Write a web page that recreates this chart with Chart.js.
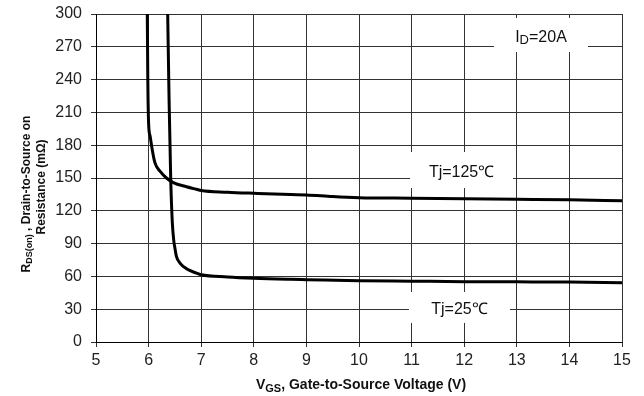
<!DOCTYPE html>
<html>
<head>
<meta charset="utf-8">
<script src="https://cdn.jsdelivr.net/npm/chart.js@4.4.1/dist/chart.umd.min.js"></script>
<style>
html,body{margin:0;padding:0;background:#fff;}
#c{display:block;}
</style>
</head>
<body>
<canvas id="c" width="644" height="396"></canvas>
<script>
// ---- Data ----
const vgs125 = [5.975, 5.985, 6.0, 6.03, 6.06, 6.12, 6.22, 6.34, 6.47, 6.72, 6.91, 7.0, 7.5, 8.0, 8.7, 9.0, 9.5, 10, 11, 12, 13, 14, 15];
const rds125 = [300, 240, 200, 188, 178.5, 164, 156, 150, 145.7, 142, 139.7, 138.5, 137, 136, 134.8, 134.5, 133, 132, 131.5, 131, 130.5, 130, 129.2];
const vgs25 = [6.363, 6.39, 6.42, 6.45, 6.48, 6.5, 6.53, 6.6, 6.72, 6.91, 7.0, 7.5, 8, 8.7, 9, 10, 11, 12, 13, 14, 15];
const rds25 = [300, 220, 150, 110, 92, 86, 78, 72, 67, 63, 61.5, 59.5, 58.3, 57.3, 57, 56, 55.6, 55.2, 55, 54.8, 54.3];
const xTicks = [5, 6, 7, 8, 9, 10, 11, 12, 13, 14, 15];
const yTicks = [0, 30, 60, 90, 120, 150, 180, 210, 240, 270, 300];

// annotation labels: [main, subscript, rest], anchored in data units
const labelTexts = [["I", "D", "=20A"], ["Tj=125℃", "", ""], ["Tj=25℃", "", ""]];
const labelX = [13.46, 11.95, 11.91];
const labelY = [280.8, 157.3, 31.6];
const labelBox = [[94, 34], [103, 36], [101, 31]];

const toPts = (xs, ys) => xs.map((x, i) => ({x: x, y: ys[i]}));
const FAM = '"Liberation Sans", Arial, sans-serif';

function drawSubText(ctx, parts, x, y, size, bold, align, subRatio, subDrop) {
  const f = (s) => (bold ? 'bold ' : '') + s + 'px ' + FAM;
  const subSize = Math.round(size * (subRatio || 0.72));
  const drop = subDrop === undefined ? size * 0.18 : subDrop;
  ctx.font = f(size); const w1 = ctx.measureText(parts[0]).width;
  const w3 = ctx.measureText(parts[2]).width;
  ctx.font = f(subSize); const w2 = ctx.measureText(parts[1]).width;
  const total = w1 + w2 + w3;
  let sx = align === 'center' ? x - total / 2 : x;
  ctx.textAlign = 'left';
  ctx.textBaseline = 'alphabetic';
  ctx.font = f(size); ctx.fillText(parts[0], sx, y);
  ctx.font = f(subSize); ctx.fillText(parts[1], sx + w1, y + drop);
  ctx.font = f(size); ctx.fillText(parts[2], sx + w1 + w2, y);
}

const annPlugin = {
  id: 'ann',
  beforeDatasetsDraw(chart) {
    const ctx = chart.ctx, xs = chart.scales.x, ys = chart.scales.y;
    ctx.save();
    for (let i = 0; i < labelTexts.length; i++) {
      const cx = xs.getPixelForValue(labelX[i]);
      const cy = ys.getPixelForValue(labelY[i]);
      const [w, h] = labelBox[i];
      ctx.fillStyle = '#fff';
      ctx.fillRect(cx - w / 2, cy - h / 2, w, h);
      ctx.fillStyle = '#111';
      drawSubText(ctx, labelTexts[i], cx, cy + 7, 16, false, 'center', 0.8, 2);
    }
    ctx.restore();
  },
  afterDraw(chart) {
    const ctx = chart.ctx;
    ctx.save();
    ctx.fillStyle = '#111';
    drawSubText(ctx, ["V", "GS", ", Gate-to-Source Voltage (V)"], 361, 389, 14, true, 'center', 0.75, 2.5);
    ctx.save();
    ctx.translate(30, 194);
    ctx.rotate(-Math.PI / 2);
    drawSubText(ctx, ["R", "DS(on)", " , Drain-to-Source on"], 0, 0, 12, true, 'center');
    ctx.restore();
    ctx.save();
    ctx.translate(45, 187);
    ctx.rotate(-Math.PI / 2);
    drawSubText(ctx, ["Resistance (mΩ)", "", ""], 0, 0, 12, true, 'center');
    ctx.restore();
    ctx.restore();
  }
};

new Chart(document.getElementById('c'), {
  type: 'scatter',
  data: {
    datasets: [
      {data: toPts(vgs125, rds125), showLine: true, borderColor: '#000', borderWidth: 3, pointRadius: 0, cubicInterpolationMode: 'monotone', fill: false},
      {data: toPts(vgs25, rds25), showLine: true, borderColor: '#000', borderWidth: 3, pointRadius: 0, cubicInterpolationMode: 'monotone', fill: false}
    ]
  },
  options: {
    responsive: false,
    animation: false,
    events: [],
    layout: {padding: {left: 0, right: 22, top: 14, bottom: 0}},
    plugins: {legend: {display: false}, tooltip: {enabled: false}},
    scales: {
      x: {
        type: 'linear', min: 5, max: 15,
        afterBuildTicks: (s) => { s.ticks = xTicks.map(v => ({value: v})); },
        afterFit: (s) => { s.height = 54; s.paddingLeft = 0; s.paddingRight = 0; },
        grid: {color: '#333', lineWidth: 1, tickLength: 5, drawTicks: true},
        border: {color: '#000', width: 1},
        ticks: {color: '#222', font: {family: FAM, size: 16}, padding: 4, maxRotation: 0}
      },
      y: {
        type: 'linear', min: 0, max: 300,
        afterBuildTicks: (s) => { s.ticks = yTicks.map(v => ({value: v})); },
        afterFit: (s) => { s.width = 96; s.paddingTop = 0; s.paddingBottom = 0; },
        grid: {color: '#333', lineWidth: 1, tickLength: 5, drawTicks: true},
        border: {color: '#000', width: 1},
        ticks: {color: '#222', font: {family: FAM, size: 16}, padding: 9}
      }
    }
  },
  plugins: [annPlugin]
});
</script>
</body>
</html>
